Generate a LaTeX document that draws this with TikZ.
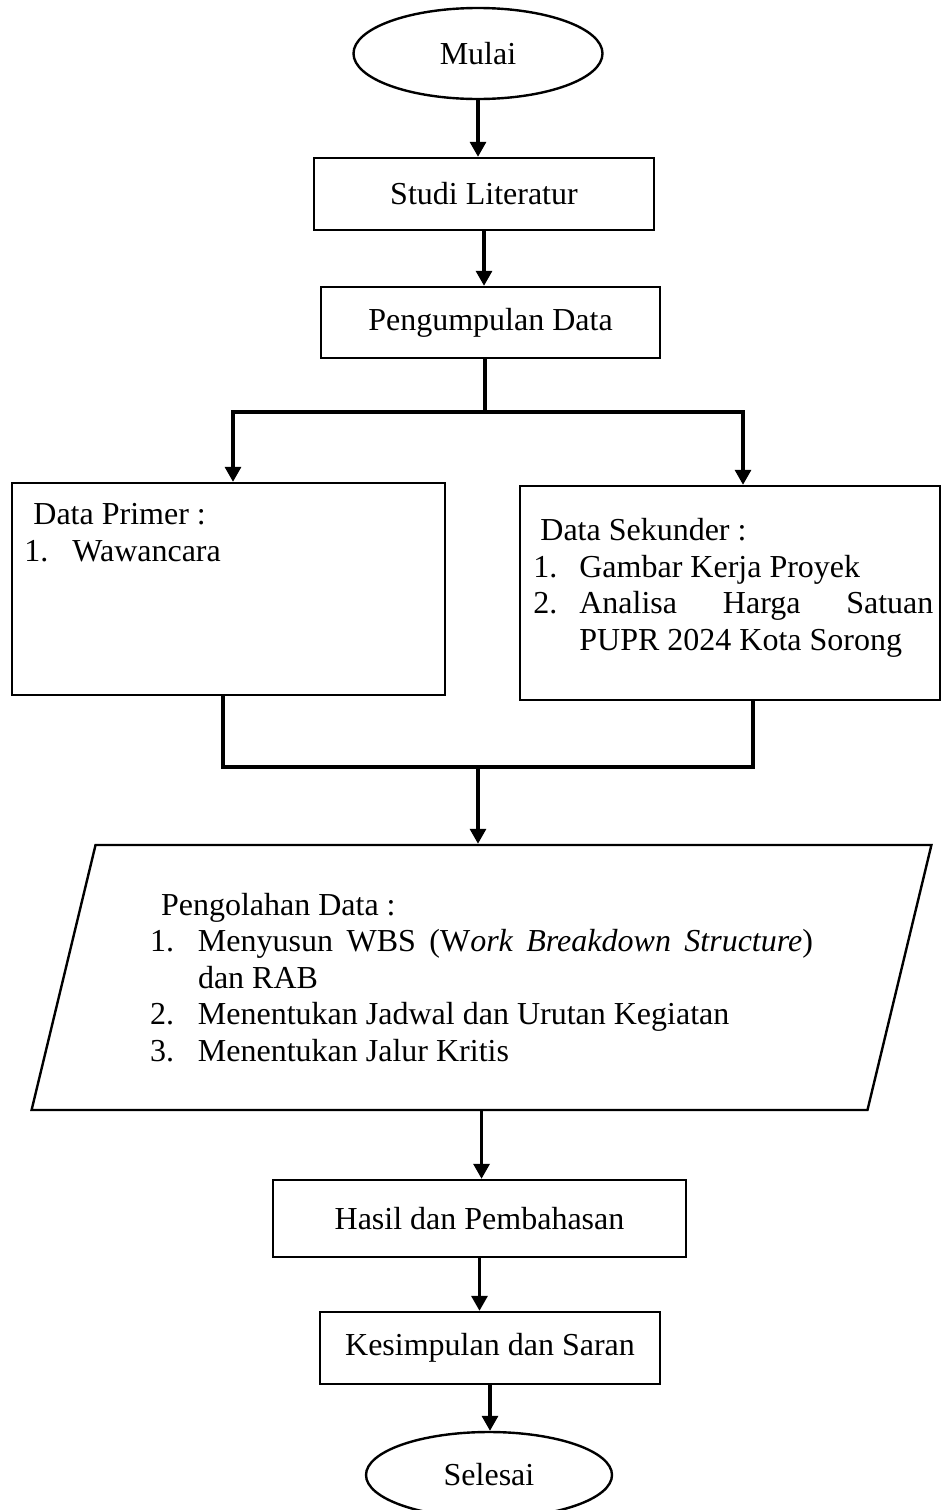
\documentclass[tikz,border=0pt]{standalone}
\usepackage{fontspec}
\setmainfont{Liberation Serif}
\usetikzlibrary{arrows.meta, positioning, shapes.geometric}
\tikzset{
  proses/.style={draw, line width=1.2pt, rectangle, inner sep=0pt},
  terminal/.style={draw, line width=1.2pt, ellipse, inner sep=0pt},
  olahan/.style={draw, line width=1.2pt, trapezium, trapezium left angle=72,
    trapezium right angle=108, trapezium stretches=true, inner sep=0pt, align=left},
  isi/.style={align=left, inner sep=0pt, anchor=north west},
  panah/.style={->, line width=1.6pt},
  garis/.style={line width=1.6pt},
  >={Triangle[width=8pt,length=7.5pt]}
}

\begin{document}
\begin{tikzpicture}[x=0.5pt, y=-0.5pt, font=\fontsize{16}{18.3}\selectfont]
\useasboundingbox (0,0) rectangle (941,1510);
\node[terminal, minimum width=124.5pt, minimum height=45.5pt] (mulai) at (478,53.5) {Mulai};
\node[proses, minimum width=170pt, minimum height=36pt] (studi) at (484,194) {Studi Literatur};
\node[proses, minimum width=169.5pt, minimum height=35.5pt] (kumpul) at (490.5,322.5) {Pengumpulan Data};
\node[proses, minimum width=216.5pt, minimum height=106pt] (primer) at (228.5,589) {};
\node[isi] (primertxt) at (24,503) {\hspace*{4.5pt}Data Primer :\\
  \makebox[24pt][l]{1.}Wawancara};
\node[proses, minimum width=210pt, minimum height=107pt] (sekunder) at (730,593) {};
\node[isi] (sekundertxt) at (533,518) {\hspace*{3.5pt}Data Sekunder :\\
  \makebox[23pt][l]{1.}Gambar Kerja Proyek\\
  \makebox[23pt][l]{2.}\makebox[177pt][s]{Analisa Harga Satuan}\\
  \hspace*{23pt}PUPR 2024 Kota Sorong};
\node[olahan, minimum width=451.5pt, minimum height=132.5pt] (olah) at (481.5,977.5) {\hspace*{5.5pt}Pengolahan Data :\\
  \makebox[24pt][l]{1.}\makebox[307.5pt][s]{Menyusun WBS (W\textit{ork Breakdown Structure})}\hspace*{6pt}\\
  \hspace*{24pt}dan RAB\\
  \makebox[24pt][l]{2.}Menentukan Jadwal dan Urutan Kegiatan\\
  \makebox[24pt][l]{3.}Menentukan Jalur Kritis};
\node[proses, minimum width=206.5pt, minimum height=38.5pt] (hasil) at (479.5,1218.5) {Hasil dan Pembahasan};
\node[proses, minimum width=170pt, minimum height=36pt] (simpul) at (490,1348) {Kesimpulan dan Saran};
\node[terminal, minimum width=123pt, minimum height=43pt] (selesai) at (489,1475) {Selesai};

\coordinate (cabang) at (485,412);
\coordinate (cabangL) at (233,412);
\coordinate (cabangR) at (743,412);
\coordinate (gabung) at (478,767);
\coordinate (gabungL) at (223,767);
\coordinate (gabungR) at (753,767);

\draw[panah] (mulai.south) -- (mulai.south |- studi.north);
\draw[panah] (studi.south) -- (studi.south |- kumpul.north);
\draw[garis] (cabang |- kumpul.south) -- (cabang);
\draw[panah] (cabang) -- (cabangL) -- (cabangL |- primer.north);
\draw[panah] (cabang) -- (cabangR) -- (cabangR |- sekunder.north);
\draw[garis] (gabungL |- primer.south) -- (gabungL) -- (gabungR) -- (gabungR |- sekunder.south);
\draw[panah] (gabung) -- (gabung |- olah.north);
\draw[panah] (olah.south) -- (olah.south |- hasil.north);
\draw[panah] (hasil.south) -- (hasil.south |- simpul.north);
\draw[panah] (simpul.south) -- (simpul.south |- selesai.north);
\end{tikzpicture}
\end{document}
